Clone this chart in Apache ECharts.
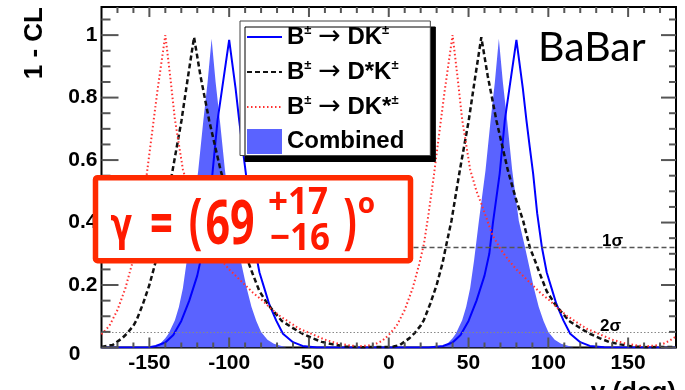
<!DOCTYPE html>
<html><head><meta charset="utf-8">
<script src="https://cdn.jsdelivr.net/npm/echarts@6/dist/echarts.min.js"></script>
<style>html,body{margin:0;padding:0;background:#fff}#c{width:685px;height:390px}</style>
</head><body><div id="c"></div>
<script>
// ---- data ----
const seriesNames = ['B± → DK±', 'B± → D*K±', 'B± → DK*±', 'Combined'];

const dkGamma = [-180,-150,-146,-140,-135,-130,-125,-120,-117,-114.7,-110.5,-107.3,-104.3,-100,-96,-93.7,-91.6,-89.5,-87,-84,-81,-78,-75,-70.5,-66.3,-60,-54,-45,25,34,40,45,50,55,60,63,65.3,69.5,72.7,75.7,80,84,86.3,88.4,90.5,93,96,99,102,105,109.5,113.7,120,126,135,180];
const dkCL = [0,0.001,0.005,0.016,0.04,0.085,0.15,0.23,0.3,0.4,0.556,0.726,0.833,0.985,0.83,0.726,0.64,0.556,0.43,0.32,0.24,0.19,0.14,0.086,0.044,0.017,0.005,0,0,0.005,0.016,0.04,0.085,0.15,0.23,0.3,0.4,0.556,0.726,0.833,0.985,0.83,0.726,0.64,0.556,0.43,0.32,0.24,0.19,0.14,0.086,0.044,0.017,0.005,0.001,0];

const dstkGamma = [-180,-173,-167,-164,-160,-158,-154,-150,-146.3,-144.5,-140.7,-135.5,-129.9,-126,-122,-118,-112.5,-105.3,-100,-95.8,-91.6,-88.5,-85.3,-81,-76,-72,-67,-60,-54,-48,-42,-35,-27,-17,0,3,7,13,16,20,22,26,30,33.7,35.5,39.3,44.5,50.1,54,58,62,67.5,74.7,80,84.2,88.4,91.5,94.7,99,104,108,113,120,126,132,138,145,153,163,180];
const dstkCL = [0.002,0.008,0.03,0.045,0.07,0.088,0.14,0.2,0.27,0.315,0.406,0.566,0.726,0.86,0.993,0.87,0.726,0.566,0.47,0.406,0.32,0.28,0.236,0.18,0.14,0.115,0.085,0.062,0.044,0.03,0.018,0.01,0.003,0.001,0.002,0.003,0.008,0.03,0.045,0.07,0.088,0.14,0.2,0.27,0.315,0.406,0.566,0.726,0.86,0.993,0.87,0.726,0.566,0.47,0.406,0.32,0.28,0.236,0.18,0.14,0.115,0.085,0.062,0.044,0.03,0.018,0.01,0.003,0.001,0.002];

const dkstGamma = [-180,-175,-170,-165,-161,-158,-155,-152,-149,-145,-140,-137,-134,-129,-125,-122,-118.5,-115,-110,-105,-100,-95,-90,-85,-79,-74,-68,-62,-56,-48,-40,-32,-24,-18,-12,-8,-4,0,5,10,15,19,22,25,28,31,35,40,43,46,51,55,58,61.5,65,70,75,80,85,90,95,101,106,112,118,124,132,140,148,156,162,168,172,176,180];
const dkstCL = [0.042,0.07,0.12,0.19,0.265,0.33,0.43,0.54,0.66,0.82,1.0,0.87,0.73,0.57,0.5,0.46,0.41,0.36,0.315,0.28,0.25,0.225,0.2,0.175,0.15,0.125,0.1,0.08,0.06,0.043,0.025,0.013,0.006,0.004,0.007,0.012,0.022,0.04,0.07,0.12,0.19,0.265,0.33,0.43,0.54,0.66,0.82,1.0,0.87,0.73,0.57,0.5,0.46,0.41,0.36,0.315,0.28,0.25,0.225,0.2,0.175,0.15,0.125,0.1,0.08,0.06,0.043,0.025,0.013,0.006,0.004,0.007,0.012,0.022,0.035];

const combGamma = [-180,-149,-144,-140,-138,-134,-131.5,-129,-126.5,-123.5,-119.4,-116.2,-113.5,-111,-108.5,-105.8,-102.6,-98.5,-95,-92,-89,-86,-83,-80,-76,-72,-64,31,36,40,42,46,48.5,51,53.5,56.5,60.6,63.8,66.5,69,71.5,74.2,77.4,81.5,85,88,91,94,97,100,104,108,116,180];
const combCL = [0,0,0.008,0.03,0.044,0.087,0.13,0.19,0.28,0.406,0.566,0.726,0.85,0.988,0.85,0.726,0.566,0.406,0.33,0.26,0.19,0.13,0.085,0.05,0.025,0.012,0,0,0.008,0.03,0.044,0.087,0.13,0.19,0.28,0.406,0.566,0.726,0.85,0.988,0.85,0.726,0.566,0.406,0.33,0.26,0.19,0.13,0.085,0.05,0.025,0.012,0,0];

const sigmaLevels = [0.317, 0.0455];
const sigmaLabels = ['1σ', '2σ'];

const xMajorTicks = [-150,-100,-50,0,50,100,150];
const xMinorTicks = [-170,-160,-140,-130,-120,-110,-90,-80,-70,-60,-40,-30,-20,-10,10,20,30,40,60,70,80,90,110,120,130,140,160,170];
const yMajorTicks = [0,0.2,0.4,0.6,0.8,1];
const yTickLabels = ['0','0.2','0.4','0.6','0.8','1'];
const yMinorTicks = [0.05,0.1,0.15,0.25,0.3,0.35,0.45,0.5,0.55,0.65,0.7,0.75,0.85,0.9,0.95,1.05];

// ---- chart ----
const X_MIN = -180, X_MAX = 180, Y_MIN = 0, Y_MAX = 1.09;
function pairs(xs, ys) { return xs.map((x, i) => [x, ys[i]]); }
const FILL = '#5a63ff';
const TICK = '#555';

const chart = echarts.init(document.getElementById('c'));
const boxRed = '#ff2a00', txtRed = '#ff1a00';
function redText(id, t, x, y, font, sy) {
  return { id: id, type: 'text', x: x, y: y, scaleY: sy, z: 101,
    style: { text: t, font: font, fill: txtRed, align: 'center', textAlign: 'center', verticalAlign: 'middle', textVerticalAlign: 'middle' } };
}
const OS = (sz) => 'bold ' + sz + 'px "Open Sans"';

const baseGraphics = [
  { id: 'ytitle', type: 'text', x: 35, y: 7, rotation: Math.PI / 2,
    style: { text: '1 - CL', font: 'bold 26px "Liberation Sans"', fill: '#000', align: 'right', textAlign: 'right', verticalAlign: 'middle', textVerticalAlign: 'middle' } },
  { id: 'xtitle', type: 'text', x: 676, y: 380,
    style: { text: 'γ (deg)', font: 'bold 26px "Liberation Sans"', fill: '#000', align: 'right', textAlign: 'right', verticalAlign: 'top', textVerticalAlign: 'top' } },
  { id: 'babar', type: 'text', x: 538, y: 47.5,
    style: { text: 'BaBar', font: '41px Lato', fill: '#000', align: 'left', textAlign: 'left', verticalAlign: 'middle', textVerticalAlign: 'middle' } },
  { id: 's1', type: 'text', x: 602, y: 241,
    style: { text: sigmaLabels[0], font: 'bold 17px "Liberation Sans"', fill: '#000', align: 'left', textAlign: 'left', verticalAlign: 'middle', textVerticalAlign: 'middle' } },
  { id: 's2', type: 'text', x: 600, y: 326.5,
    style: { text: sigmaLabels[1], font: 'bold 17px "Liberation Sans"', fill: '#000', align: 'left', textAlign: 'left', verticalAlign: 'middle', textVerticalAlign: 'middle' } },
  { id: 'gbox', type: 'rect', z: 100, shape: { x: 95.5, y: 177.7, width: 315, height: 83, r: 2 },
    style: { fill: '#fff', stroke: boxRed, lineWidth: 5.5 } },
  redText('g1', 'γ', 121.5, 228, 'bold 32px "DejaVu Sans"', 1.45),
  redText('g2', '=', 161.5, 226.5, OS(40), 1.5),
  redText('g3', '(', 195.5, 225, OS(40), 1.5),
  redText('g4', '69', 230, 226.5, OS(43), 1.42),
  redText('g5', '+17', 298, 203.5, OS(35), 1.08),
  redText('g6', '−16', 300, 239, OS(35), 1.08),
  redText('g7', ')', 350, 225, OS(40), 1.5),
  redText('g8', 'o', 366.5, 205.5, OS(28), 1.0)
];

chart.setOption({
  animation: false,
  grid: { left: 101.5, right: 9, top: 7, bottom: 42.5, show: true, borderColor: '#000', borderWidth: 2 },
  xAxis: {
    type: 'value', min: X_MIN, max: X_MAX, position: 'bottom',
    axisLine: { show: false, onZero: false }, splitLine: { show: false }, axisTick: { show: false },
    axisLabel: { show: true, margin: 5, customValues: xMajorTicks, fontFamily: 'Liberation Sans', fontWeight: 'bold', fontSize: 21, color: '#000' }
  },
  yAxis: {
    type: 'value', min: Y_MIN, max: Y_MAX, position: 'left',
    axisLine: { show: false, onZero: false }, splitLine: { show: false }, axisTick: { show: false },
    axisLabel: {
      show: true, margin: 4, customValues: yMajorTicks, fontFamily: 'Liberation Sans', fontWeight: 'bold', fontSize: 21, color: '#000',
      formatter: function (v) {
        const i = yMajorTicks.findIndex(t => Math.abs(t - v) < 1e-9);
        const s = i >= 0 ? yTickLabels[i] : String(v);
        return v === 0 ? '{z|' + s + '}' : s;
      },
      rich: { z: { padding: [14, 17, 0, 0], fontFamily: 'Liberation Sans', fontWeight: 'bold', fontSize: 21, color: '#000' } }
    }
  },
  legend: {
    left: 240, top: 21, orient: 'vertical', itemWidth: 35, itemHeight: 25, itemGap: 8, z: 20,
    padding: [2.5, 26, 1, 6], backgroundColor: '#fff', borderColor: '#444', borderWidth: 1,
    shadowColor: '#000', shadowOffsetX: 5, shadowOffsetY: 6, shadowBlur: 0,
    symbolKeepAspect: false, selectedMode: false, itemStyle: { opacity: 0 },
    formatter: n => n.replace(/±/g, '{s|±}').replace('→', '{a|→}'),
    textStyle: { fontFamily: 'Liberation Sans', fontWeight: 'bold', fontSize: 24, color: '#000', lineHeight: 26,
      rich: {
        s: { fontFamily: 'Liberation Sans', fontWeight: 'bold', fontSize: 13, lineHeight: 10, verticalAlign: 'top', color: '#000' },
        a: { fontFamily: 'DejaVu Sans', fontWeight: 'normal', fontSize: 27, lineHeight: 26, color: '#000' }
      } },
    data: [{ name: seriesNames[0] }, { name: seriesNames[1] }, { name: seriesNames[2] }, { name: seriesNames[3], icon: 'rect', itemStyle: { opacity: 1 } }]
  },
  series: [
    { name: seriesNames[3], type: 'line', data: pairs(combGamma, combCL), symbol: 'none', showSymbol: false, color: FILL,
      lineStyle: { width: 0, color: FILL }, areaStyle: { color: FILL, opacity: 1 }, itemStyle: { color: FILL } },
    { name: seriesNames[0], type: 'line', data: pairs(dkGamma, dkCL), symbol: 'none', showSymbol: false, color: '#0000ff',
      lineStyle: { width: 2, color: '#0000ff' },
      markLine: { silent: true, symbol: 'none', label: { show: false },
        data: [
          { yAxis: sigmaLevels[0], lineStyle: { type: [5, 3], color: '#555', width: 1.3 } },
          { yAxis: sigmaLevels[1], lineStyle: { type: [1.5, 2], color: '#888', width: 1 } }
        ] } },
    { name: seriesNames[1], type: 'line', data: pairs(dstkGamma, dstkCL), symbol: 'none', showSymbol: false, color: '#000',
      lineStyle: { width: 2.5, color: '#111', type: [5, 3] } },
    { name: seriesNames[2], type: 'line', data: pairs(dkstGamma, dkstCL), symbol: 'none', showSymbol: false, color: '#ff0000',
      lineStyle: { width: 2, color: '#ff3030', type: [1.5, 2.5] } }
  ],
  graphic: baseGraphics
});

// frame ticks on all four sides, placed through the chart's own axis scales
const tickGraphics = [];
function addTick(id, a, b) {
  tickGraphics.push({ id: id, type: 'line', z: 50, silent: true,
    shape: { x1: a[0], y1: a[1], x2: b[0], y2: b[1] }, style: { stroke: TICK, lineWidth: 2 } });
}
const px = (x, y) => chart.convertToPixel({ xAxisIndex: 0, yAxisIndex: 0 }, [x, y]);
function xTicks(vals, lenB, lenT, tag) {
  vals.forEach((v, i) => {
    const b = px(v, Y_MIN), t = px(v, Y_MAX);
    addTick('xb' + tag + i, b, [b[0], b[1] - lenB]);
    addTick('xt' + tag + i, t, [t[0], t[1] + lenT]);
  });
}
function yTicks(vals, lenL, lenR, tag) {
  vals.forEach((v, i) => {
    const l = px(X_MIN, v), r = px(X_MAX, v);
    addTick('yl' + tag + i, l, [l[0] + lenL, l[1]]);
    addTick('yr' + tag + i, r, [r[0] - lenR, r[1]]);
  });
}
xTicks(xMajorTicks, 10, 10, 'M');
xTicks(xMinorTicks, 5, 6, 'm');
yTicks(yMajorTicks, 17, 15, 'M');
yTicks(yMinorTicks, 9, 7, 'm');
chart.setOption({ graphic: baseGraphics.concat(tickGraphics) });
</script></body></html>
